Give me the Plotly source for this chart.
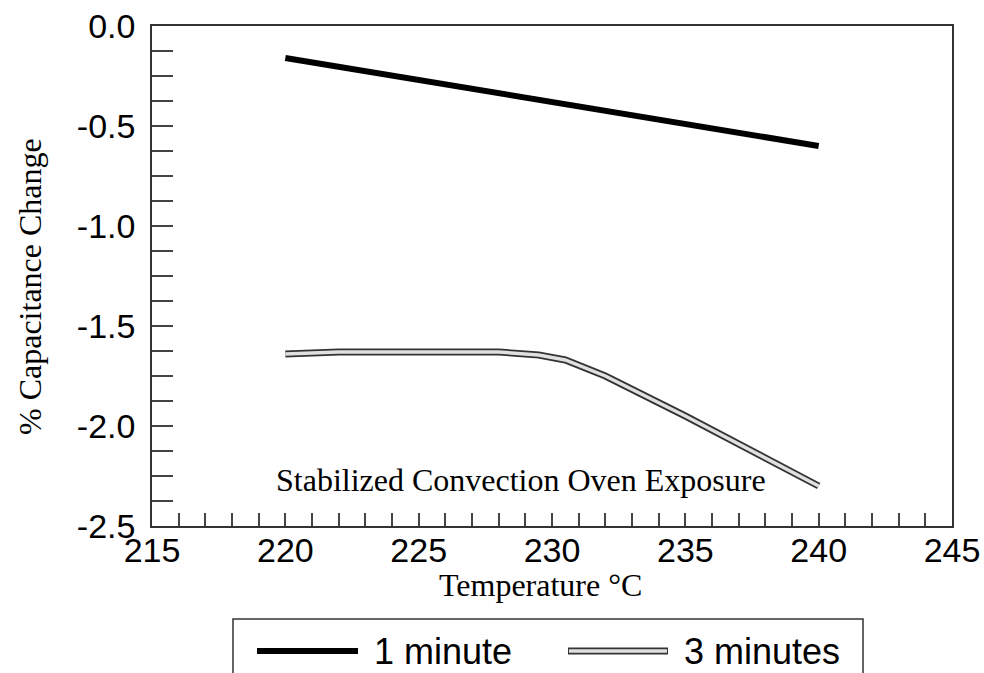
import plotly.graph_objects as go

# ---- data ----
temps_1min = [220, 230, 240]
cap_1min = [-0.16, -0.38, -0.60]

temps_3min = [220, 222, 225, 228, 229.5, 230.5, 232, 235, 240]
cap_3min = [-1.64, -1.63, -1.63, -1.63, -1.645, -1.67, -1.75, -1.95, -2.30]

x_tick_vals = [215, 220, 225, 230, 235, 240, 245]
y_tick_vals = [0.0, -0.5, -1.0, -1.5, -2.0, -2.5]
y_tick_text = ["0.0", "-0.5", "-1.0", "-1.5", "-2.0", "-2.5"]

series_names = ["1 minute", "3 minutes"]
note_text = "Stabilized Convection Oven Exposure"
x_title = "Temperature °C"
y_title = "% Capacitance Change"

SANS = "Liberation Sans, Arial, Helvetica, sans-serif"
SERIF = "Liberation Serif, Times New Roman, serif"

W, H = 984, 673
L, R, T, B = 152, 32, 26, 147
PW, PH = W - L - R, H - T - B


def px(xp):
    return (xp - L) / PW


def py(yp):
    return (H - B - yp) / PH


fig = go.Figure()
fig.add_trace(go.Scatter(x=temps_1min, y=cap_1min, mode="lines",
                         line=dict(color="#000000", width=6),
                         name=series_names[0], showlegend=False))
fig.add_trace(go.Scatter(x=temps_3min, y=cap_3min, mode="lines",
                         line=dict(color="#333333", width=7),
                         name=series_names[1], showlegend=False))
fig.add_trace(go.Scatter(x=temps_3min, y=cap_3min, mode="lines",
                         line=dict(color="#e0e0e0", width=3.5),
                         name=series_names[1], showlegend=False))

axis_common = dict(showgrid=False, zeroline=False, showline=True,
                   linecolor="#333333", linewidth=1.5, mirror=True,
                   ticks="inside", tickcolor="#444444", tickwidth=1.5,
                   automargin=False,
                   tickfont=dict(family=SANS, size=34, color="#000000"))

fig.update_xaxes(range=[215, 245], tickmode="array", tickvals=x_tick_vals,
                 ticklen=13,
                 minor=dict(dtick=1, tick0=215, ticks="inside", ticklen=13,
                            tickcolor="#444444", tickwidth=1.5),
                 ticklabelstandoff=-7, **axis_common)
fig.update_yaxes(range=[-2.5, 0.0], tickmode="array", tickvals=y_tick_vals,
                 ticktext=y_tick_text, ticklen=21,
                 minor=dict(dtick=0.125, tick0=0, ticks="inside", ticklen=21,
                            tickcolor="#444444", tickwidth=1.5),
                 ticklabelstandoff=8, **axis_common)

annotations = [
    dict(text=note_text, x=228.85, y=-2.27, xref="x", yref="y",
         xanchor="center", yanchor="middle",
         showarrow=False, font=dict(family=SERIF, size=32, color="#000000")),
    dict(text=x_title, x=px(540), y=py(585), xref="paper", yref="paper",
         xanchor="center", yanchor="middle",
         showarrow=False, font=dict(family=SERIF, size=32, color="#000000")),
    dict(text=y_title, x=px(30), y=py(287), xref="paper", yref="paper",
         xanchor="center", yanchor="middle",
         textangle=-90, showarrow=False,
         font=dict(family=SERIF, size=32, color="#000000")),
    dict(text=series_names[0], x=px(372), y=py(651), xref="paper", yref="paper",
         xanchor="left", yanchor="middle", showarrow=False,
         font=dict(family=SANS, size=36, color="#000000")),
    dict(text=series_names[1], x=px(682), y=py(651), xref="paper", yref="paper",
         xanchor="left", yanchor="middle", showarrow=False,
         font=dict(family=SANS, size=36, color="#000000")),
]

shapes = [
    dict(type="rect", xref="paper", yref="paper",
         x0=px(233), x1=px(863), y0=py(619), y1=py(720),
         line=dict(color="#333333", width=1.5), fillcolor="rgba(0,0,0,0)"),
    dict(type="line", xref="paper", yref="paper",
         x0=px(257), x1=px(358), y0=py(651), y1=py(651),
         line=dict(color="#000000", width=6)),
    dict(type="line", xref="paper", yref="paper",
         x0=px(568), x1=px(668), y0=py(651), y1=py(651),
         line=dict(color="#333333", width=7)),
    dict(type="line", xref="paper", yref="paper",
         x0=px(569), x1=px(667), y0=py(651), y1=py(651),
         line=dict(color="#e0e0e0", width=3.5)),
]

fig.update_layout(width=W, height=H, margin=dict(l=L, r=R, t=T, b=B),
                  paper_bgcolor="#ffffff", plot_bgcolor="#ffffff",
                  showlegend=False, annotations=annotations, shapes=shapes)

fig.write_html("out.html",
               config={"displayModeBar": False},
               post_script="document.body.style.margin='0';"
                           "document.body.style.overflow='hidden';")
